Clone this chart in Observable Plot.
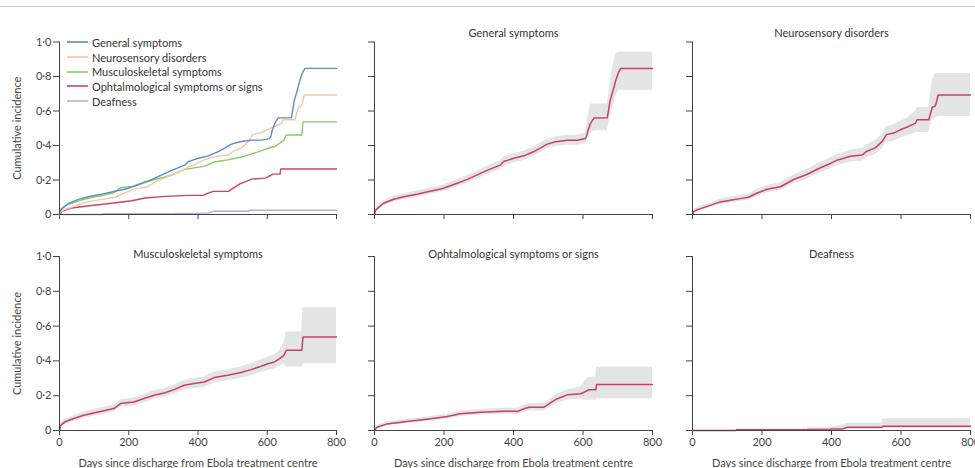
<!DOCTYPE html>
<html><head><meta charset="utf-8">
<script src="https://cdn.jsdelivr.net/npm/d3@7"></script>
<script src="https://cdn.jsdelivr.net/npm/@observablehq/plot@0.6"></script>
<style>
body{margin:0;background:#fff;}
#wrap{position:relative;width:975px;height:468px;overflow:hidden;font-family:Lato,"Liberation Sans",Arial,sans-serif;color:#333;}
.panel{position:absolute;}
.panel svg{overflow:visible;}
#topline{position:absolute;left:0;top:6px;width:975px;height:0;border-top:1px solid #cfcfcf;}
#legend{position:absolute;left:67px;top:35px;font-size:11px;color:#333;}
#legend .row{display:flex;align-items:center;height:14.7px;white-space:nowrap;}
#legend svg{margin-right:4px;}
</style></head>
<body><div id="wrap"><div id="topline"></div></div>
<script>
// ---- data ----
const xTicks = [0, 200, 400, 600, 800];
const yTicks = [0, 0.2, 0.4, 0.6, 0.8, 1.0];
const xLabel = "Days since discharge from Ebola treatment centre";
const yLabel = "Cumulative incidence";
const seriesNames = ["General symptoms", "Neurosensory disorders", "Musculoskeletal symptoms", "Ophtalmological symptoms or signs", "Deafness"];
const seriesColors = ["#5b8cc7", "#f9c4ab", "#82cc63", "#cc4466", "#c0aadf"];

const generalDays = [0, 3, 11, 26, 55, 84, 122, 160, 194, 228, 266, 286, 324, 362, 372, 401, 430, 459, 497, 521, 555, 584, 606, 610, 614, 622, 632, 670, 678, 685, 694, 702, 709, 800];
const generalEst  = [0, .025, .04, .065, .088, .103, .118, .135, .149, .174, .202, .221, .256, .286, .307, .326, .340, .365, .408, .422, .431, .431, .44, .45, .485, .53, .56, .561, .66, .708, .775, .823, .847, .847];
const generalLo   = [0, .015, .028, .05, .072, .086, .1, .117, .13, .154, .18, .198, .232, .26, .28, .3, .313, .337, .38, .394, .402, .402, .41, .42, .45, .47, .485, .485, .57, .62, .68, .72, .72, .72];
const generalHi   = [0, .035, .052, .08, .104, .12, .136, .153, .168, .194, .224, .244, .28, .312, .334, .352, .367, .393, .436, .45, .46, .46, .47, .5, .57, .64, .64, .64, .75, .85, .93, .94, .94, .94];

const neuroDays = [0, 3, 12, 32, 61, 80, 109, 137, 161, 185, 214, 253, 291, 329, 368, 397, 416, 454, 488, 502, 526, 546, 558, 579, 598, 618, 642, 646, 680, 690, 699, 707, 800];
const neuroEst  = [0, .015, .027, .04, .06, .073, .083, .092, .1, .123, .146, .161, .203, .232, .271, .296, .315, .338, .345, .367, .386, .424, .463, .472, .491, .507, .53, .549, .549, .622, .63, .693, .693];
const neuroLo   = [0, .008, .017, .028, .046, .058, .067, .075, .082, .104, .125, .139, .178, .205, .242, .265, .283, .304, .309, .329, .346, .382, .418, .425, .442, .456, .476, .476, .476, .55, .56, .568, .568];
const neuroHi   = [0, .022, .037, .053, .075, .089, .1, .11, .119, .143, .168, .184, .229, .26, .301, .328, .348, .373, .382, .406, .427, .467, .508, .52, .54, .56, .6, .62, .62, .78, .818, .818, .818];

const muscDays = [0, 4, 16, 41, 70, 99, 128, 157, 176, 215, 244, 273, 302, 331, 360, 389, 418, 447, 486, 524, 553, 582, 602, 621, 636, 648, 655, 700, 703, 800];
const muscEst  = [0, .031, .05, .069, .088, .101, .113, .126, .155, .164, .184, .203, .216, .235, .26, .27, .279, .304, .317, .333, .35, .369, .384, .394, .413, .432, .461, .461, .537, .537];
const muscLo   = [0, .018, .035, .052, .07, .082, .093, .105, .133, .141, .16, .178, .19, .208, .232, .241, .249, .273, .285, .3, .315, .332, .345, .353, .37, .385, .365, .365, .384, .384];
const muscHi   = [0, .045, .066, .086, .106, .12, .133, .147, .177, .187, .208, .228, .242, .262, .288, .299, .309, .335, .349, .366, .385, .406, .423, .435, .46, .5, .566, .566, .706, .706];

const ophDays = [0, 7, 36, 93, 151, 209, 247, 305, 372, 415, 425, 444, 488, 502, 521, 555, 593, 603, 617, 637, 639, 800];
const ophEst  = [0, .019, .038, .052, .065, .08, .096, .105, .111, .111, .121, .134, .134, .153, .178, .205, .211, .22, .234, .234, .264, .264];
const ophLo   = [0, .01, .027, .04, .052, .066, .081, .089, .094, .094, .102, .113, .113, .13, .152, .176, .18, .175, .175, .175, .182, .182];
const ophHi   = [0, .028, .049, .064, .078, .094, .111, .121, .128, .128, .14, .155, .158, .176, .204, .234, .25, .28, .306, .306, .364, .364];

const deafDays = [0, 125, 127, 330, 332, 397, 399, 430, 445, 546, 548, 800];
const deafEst  = [0, 0, .004, .004, .006, .006, .008, .008, .019, .019, .025, .025];
const deafLo   = [0, 0, 0, 0, .001, .001, .002, .002, .006, .006, .012, .012];
const deafHi   = [0, 0, .004, .006, .016, .016, .018, .03, .042, .042, .067, .067];

// ---- build ----
const rowsOf = (days, est, lo, hi) => days.map((d, i) => ({day: d, est: est[i], lo: lo[i], hi: hi[i]}));
const series = [
  rowsOf(generalDays, generalEst, generalLo, generalHi),
  rowsOf(neuroDays, neuroEst, neuroLo, neuroHi),
  rowsOf(muscDays, muscEst, muscLo, muscHi),
  rowsOf(ophDays, ophEst, ophLo, ophHi),
  rowsOf(deafDays, deafEst, deafLo, deafHi)
];

const fmtY = d => d === 0 ? "0" : d.toFixed(1).replace(".", "·");
const cols = [{left: 0, x0: 59, x1: 336, w: 340}, {left: 340, x0: 374, x1: 652, w: 320}, {left: 660, x0: 692, x1: 970, w: 315}];
const rowsL = [{top: 0, y1: 41.5, y0: 214, h: 230, titleDy: -13}, {top: 230, y1: 256, y0: 430, h: 238, titleDy: -6}];
const FONT = 'Lato,"Liberation Sans",Arial,sans-serif';
const wrap = document.getElementById("wrap");

function makePanel(col, row, idx) {
  const C = cols[col], R = rowsL[row];
  const marks = [];
  if (idx < 0) {
    for (let s = series.length - 1; s >= 0; s--) {
      marks.push(Plot.line(series[s], {x: "day", y: "est", stroke: seriesColors[s], strokeWidth: 1.4}));
    }
  } else {
    marks.push(Plot.areaY(series[idx], {x: "day", y1: "lo", y2: "hi", fill: "#e3e4e6"}));
    marks.push(Plot.line(series[idx], {x: "day", y: "est", stroke: "#c9415f", strokeWidth: 1.5}));
    marks.push(Plot.text([seriesNames[idx]], {frameAnchor: "top", dy: R.titleDy, fontSize: 11, fill: "#333"}));
  }
  marks.push(Plot.ruleX([0], {stroke: "#444", strokeWidth: 1}));
  marks.push(Plot.ruleY([0], {stroke: "#444", strokeWidth: 1}));
  const p = Plot.plot({
    width: C.w, height: R.h,
    marginLeft: C.x0 - C.left, marginRight: C.left + C.w - C.x1,
    marginTop: R.y1 - R.top, marginBottom: R.top + R.h - R.y0,
    style: {fontFamily: FONT, fontSize: "11px", color: "#444", background: "transparent", overflow: "visible"},
    x: {domain: [0, 800], ticks: xTicks, tickSize: 5, tickPadding: 3,
        tickFormat: row === 1 ? (d => String(d)) : (() => ""),
        label: row === 1 ? xLabel : null, labelAnchor: "center", labelOffset: 36, labelArrow: false},
    y: {domain: [0, 1], ticks: yTicks, tickSize: 6, tickPadding: 2,
        tickFormat: col === 0 ? fmtY : (() => ""),
        label: col === 0 ? yLabel : null, labelAnchor: "center", labelOffset: 46, labelArrow: false},
    marks
  });
  const div = document.createElement("div");
  div.className = "panel";
  div.style.left = C.left + "px";
  div.style.top = R.top + "px";
  div.appendChild(p);
  wrap.appendChild(div);
}

makePanel(0, 0, -1);
makePanel(1, 0, 0);
makePanel(2, 0, 1);
makePanel(0, 1, 2);
makePanel(1, 1, 3);
makePanel(2, 1, 4);

// legend
const leg = document.createElement("div");
leg.id = "legend";
seriesNames.forEach((name, i) => {
  const r = document.createElement("div");
  r.className = "row";
  r.innerHTML = `<svg width="21" height="4"><line x1="0" x2="21" y1="2" y2="2" stroke="${seriesColors[i]}" stroke-width="1.6"/></svg><span>${name}</span>`;
  leg.appendChild(r);
});
wrap.appendChild(leg);
</script>
</body></html>
